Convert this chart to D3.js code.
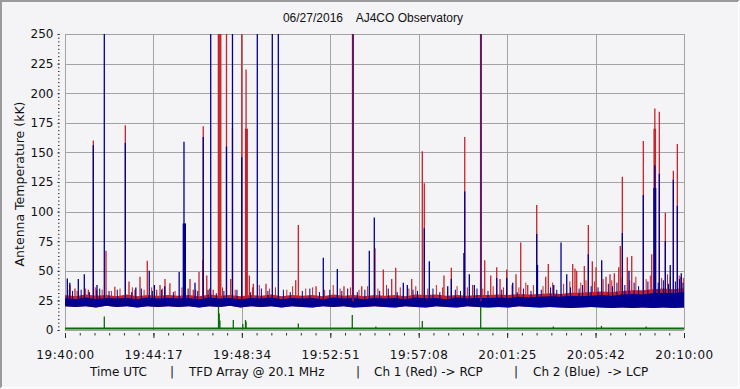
<!DOCTYPE html>
<html>
<head>
<meta charset="utf-8">
<script src="https://cdn.jsdelivr.net/npm/d3@7/dist/d3.min.js"></script>
<style>
  html, body { margin: 0; padding: 0; background: #f4f4f7; }
  svg { display: block; }
  text { fill: #111; }
</style>
</head>
<body>
<svg id="chart" width="740" height="389"></svg>
<script>
// ---------------- DATA ----------------
const title = "06/27/2016    AJ4CO Observatory";
const yLabel = "Antenna Temperature (kK)";
const caption = ["Time UTC", "|", "TFD Array @ 20.1 MHz", "|", "Ch 1 (Red) -> RCP", "|", "Ch 2 (Blue)  -> LCP"];
const xTickLabels = ["19:40:00", "19:44:17", "19:48:34", "19:52:51", "19:57:08", "20:01:25", "20:05:42", "20:10:00"];
const yTicks = [0, 25, 50, 75, 100, 125, 150, 175, 200, 225, 250];
const spanSeconds = 1800;           // 19:40:00 -> 20:10:00

// noise band envelope, sampled every 30 s (values in kK)
const bandStep = 30;
const blueLo = [20,19.5,20,19,20.5,19.5,20,19,20,19.5,20, 19.5,20,19,20,19.5,20.5,19,20,19.5,20,
                19,20,19.5,19,20,19.5,20,19,19.5,20, 19.5,19,20,19.5,19,20,19.5,19,20,19.5,
                19,19.5,19,20,19.5,19,19.5,19,18.5,19, 19.5,19,18.5,19,18.5,19,18.5,19,18.5,19];
const blueHi = [27,26,27.5,26,27,26.5,27,26,27.5,26.5,27, 26.5,27,26,27.5,26.5,27,26,27,26.5,27.5,
                26,27,26.5,27,26,27.5,26.5,27,26,27, 26.5,27,26,27.5,26.5,27,26,27.5,26.5,27,
                27,27.5,27,28,27.5,28,28.5,28,29,28.5, 29,29.5,29,30,30.5,30,31,31.5,31,32];
const redHi  = [29.5,28.5,30,29,29.5,28.5,30,28.5,29.5,29,29.5, 29,29.5,28.5,30,29,29.5,28.5,29.5,29,30,
                28.5,29.5,29,29.5,28.5,30,29,29.5,28.5,29.5, 29,29.5,28.5,30,29.5,30,29,29.5,29,29.5,
                29.5,30,29.5,30.5,30,30.5,31,30.5,31.5,31.5, 32,32.5,32,33,33.5,33.5,34.5,35,34.5,35.5];

// Ch 2 (blue) spikes: seconds after 19:40:00, peak value (kK)
const blueSpikeT = [6.7,14,38.7,56.1,82.3,93,114.3,175.4,206,245,260,290,332,344,346,347.5,350,378,402,423.7,469.6,487,
  513.9,559.2,602.8,620.3,751.1,791.9,837.5,884.9,899.4,983.8,995.4,1044.8,1059.4,1112.9,1123.4,1160,1162.4,1175.7,
  1190.2,1209.5,1255.4,1284.5,1301.9,1371.7,1374,1421.2,1442.4,1459,1521.8,1560.7,1620.7,1640,1681.7,1712.5,1715.2,
  1717.5,1728.2,1745.7,1760,1769,1780.6,1792];
const blueSpikeV = [43.6,40,43,47,156,38,260,158,36,50,38,37,49,90,159,90,90,40,163,260,155,260,
  146,260,260,260,61,51.5,260,67,95,40,38,86,58,37,43,65,117,47,
  38,260,44,44,40,81,55,38,74,47,64,59,82,50,114,120,139,
  120,132,75,55,127,105,48];
// small blue noise hairs
const blueHairT = [22,47,71,101,128,152,194,222,254,281,315,358,386,416,440,462,500,540,571,590,635,655,690,712,740,
  770,805,822,850,872,915,940,966,1012,1025,1070,1090,1135,1150,1198,1230,1270,1315,1333,1355,1385,1412,1430,1470,
  1495,1505,1530,1550,1580,1592,1605,1628,1655,1668,1695,1725,1740,1755,1775,1787,1797];
const blueHairV = [33,34,32,35,33,34,32,35,33,34,32,35,33,34,31,33,34,32,35,33,34,32,33,35,32,
  34,33,35,32,34,33,35,32,34,33,35,32,34,33,35,33,34,32,35,33,34,36,34,36,
  35,38,37,36,39,37,40,38,40,37,41,40,42,39,41,43,40];

// Ch 1 (red) spikes
const redSpikeT = [14.5,29,67.9,82.3,92,119.2,145,175.4,186.1,203.6,218.1,239.3,266.6,276.3,290.8,305,363.5,373,389.7,
  400.4,402,412.3,431,446,448.5,451,453,469.6,481.9,487,513.9,525,526.5,528,530,536,547.6,584.5,670.9,678.5,730,
  811.3,836,862.8,901.5,925.6,950,961.7,1008.2,1039,1044.8,1102,1123.4,1162.4,1208.8,1220.5,1238,1255.4,1265,1284.5,
  1311.5,1325.2,1345.5,1371.7,1397.9,1405.4,1476.4,1483,1488,1510.1,1521.8,1533.4,1544.2,1573.2,1584.9,1597.4,1610.2,
  1614.8,1620.7,1635.2,1648,1681.7,1706.1,1713,1715.2,1717,1728.2,1745.7,1769,1780.6,1791];
const redSpikeV = [38,35,34,160,34,67,36.6,173,41,34,45,58.5,34,38,43,39.4,43,34,49,
  59,172,46,34,260,260,260,260,260,43,170.6,260,170,220,170,170,46,39,39,42,88.7,37,
  37,260,37,69,51,43,52.6,43,151,124,46,52.6,163,260,59,46,53,43,51,
  47,74,38,105.6,45,55.7,55.7,52,50,54,88.7,58,53,45,47,48,53,
  71,129.5,61.4,62.5,159.6,64,170,187,170,184.4,99,134.6,157,45];
// small red noise hairs
const redHairT = [8,35,60,88,108,135,160,196,230,252,283,320,340,380,420,458,495,545,565,595,612,645,662,700,720,755,
  780,800,830,855,880,910,935,975,1000,1020,1055,1080,1098,1140,1170,1185,1215,1245,1275,1300,1320,1340,1362,1390,
  1418,1450,1468,1500,1515,1540,1565,1590,1620,1642,1660,1690,1702,1735,1752,1760,1786,1798];
const redHairV = [34,33,35,36,34,33,35,36,34,36,35,33,36,34,35,36,34,36,38,35,36,34,37,35,36,34,
  38,35,36,34,37,35,38,36,35,37,35,38,36,37,36,38,35,37,36,38,36,40,38,37,
  40,39,41,40,42,41,43,42,44,42,45,43,46,44,47,45,46,44];

// Ch 3 (green) reference channel: baseline and spikes
const greenBase = 1.2;
const greenSpikeT = [114.3,446.4,448.5,450.5,489.4,517,524.9,526.5,678.5,835.4,904,1039,1208.8,1420,1560,1690];
const greenSpikeV = [11.3,19.7,14,8,8.4,5,8.4,7,5.5,12.7,3,7.6,19.7,3,3.5,3];

// ---------------- LAYOUT ----------------
const svg = d3.select("#chart");
const W = 740, H = 389;
const plot = {left: 65, right: 684, top: 34, bottom: 330};
const x = d3.scaleLinear().domain([0, spanSeconds]).range([plot.left, plot.right]);
const y = d3.scaleLinear().domain([0, 250]).range([plot.bottom, plot.top]);

const C = {bg: "#f4f4f7", grid: "#a3a3a3", red: "#c5222c", blue: "#00008f", green: "#0b6b0b", mix: "#6a1466"};

svg.append("rect").attr("width", W).attr("height", H).attr("fill", C.bg);
// window-like border
svg.append("path").attr("d", `M1,${H-1} V1 H${W-1}`).attr("fill", "none").attr("stroke", "#9a9a9a").attr("stroke-width", 2);
svg.append("path").attr("d", `M1,${H-1.5} H${W-1.5} V1`).attr("fill", "none").attr("stroke", "#ffffff").attr("stroke-width", 1);

svg.append("defs").append("clipPath").attr("id", "clip")
  .append("rect").attr("x", plot.left).attr("y", plot.top)
  .attr("width", plot.right - plot.left).attr("height", plot.bottom - plot.top + 2);

// title
svg.append("text").attr("x", 373).attr("y", 22).attr("text-anchor", "middle")
  .attr("xml:space", "preserve").style("white-space", "pre")
  .style("font-family", "'Liberation Sans', Arial, sans-serif").style("font-size", "12px")
  .text(title);

// gridlines
const xTickVals = d3.range(xTickLabels.length).map(i => i * spanSeconds / (xTickLabels.length - 1));
const grid = svg.append("g").attr("stroke", C.grid).attr("stroke-width", 1).attr("shape-rendering", "crispEdges");
grid.selectAll("line.h").data(yTicks).join("line")
  .attr("x1", plot.left).attr("x2", plot.right)
  .attr("y1", d => Math.round(y(d)) + 0.5).attr("y2", d => Math.round(y(d)) + 0.5);
grid.selectAll("line.v").data(xTickVals).join("line")
  .attr("y1", plot.top).attr("y2", plot.bottom)
  .attr("x1", d => Math.round(x(d)) + 0.5).attr("x2", d => Math.round(x(d)) + 0.5);

// ---------------- DATA LAYERS ----------------
const data = svg.append("g").attr("clip-path", "url(#clip)");
const bandT = i => i * bandStep;
const zip = (ts, vs) => ts.map((t, i) => ({t, v: vs[i]}));

function spikes(g, rows, base, color, width) {
  g.append("g").selectAll("line").data(rows).join("line")
    .attr("x1", d => x(d.t)).attr("x2", d => x(d.t))
    .attr("y1", y(base)).attr("y2", d => y(d.v))
    .attr("stroke", color).attr("stroke-width", width);
}

// red band + spikes
data.append("path")
  .datum(redHi.map((v, i) => ({t: bandT(i), lo: blueLo[i], hi: v})))
  .attr("fill", C.red)
  .attr("d", d3.area().x(d => x(d.t)).y0(d => y(d.lo)).y1(d => y(d.hi)));
spikes(data, zip(redHairT, redHairV), 27, C.red, 1);
spikes(data, zip(redSpikeT, redSpikeV), 27, C.red, 1.3);

// blue band + spikes
data.append("path")
  .datum(blueHi.map((v, i) => ({t: bandT(i), lo: blueLo[i], hi: v})))
  .attr("fill", C.blue)
  .attr("d", d3.area().x(d => x(d.t)).y0(d => y(d.lo)).y1(d => y(d.hi)));
spikes(data, zip(blueHairT, blueHairV), 24, C.blue, 1);
const redTop = new Set(redSpikeT.filter((t, i) => redSpikeV[i] >= 250).map(t => Math.round(t / 3)));
const isMix = d => d.v >= 250 && redTop.has(Math.round(d.t / 3));
data.append("g").selectAll("line").data(zip(blueSpikeT, blueSpikeV)).join("line")
  .attr("x1", d => x(d.t)).attr("x2", d => x(d.t))
  .attr("y1", y(24)).attr("y2", d => y(d.v))
  .attr("stroke", d => isMix(d) ? C.mix : C.blue)
  .attr("stroke-width", d => isMix(d) ? 2 : 1.3);

// green channel
data.append("line").attr("x1", x(0)).attr("x2", x(spanSeconds))
  .attr("y1", y(greenBase)).attr("y2", y(greenBase))
  .attr("stroke", C.green).attr("stroke-width", 2);
spikes(data, zip(greenSpikeT, greenSpikeV), greenBase, C.green, 1.3);

// ---------------- AXES ----------------
const fontTick = g => g.selectAll("text")
  .style("font-family", "'DejaVu Sans', Verdana, sans-serif").style("font-size", "12px").attr("fill", "#111");

// y axis: major ticks + dotted minor ticks
const yAxis = svg.append("g").attr("transform", `translate(59.5,0)`)
  .call(d3.axisLeft(y).tickValues(yTicks).tickSize(2).tickPadding(4))
  .call(g => g.select(".domain").remove())
  .call(fontTick);
yAxis.selectAll("line").attr("stroke", "#222");
const yMinor = d3.range(0, 250.01, 25 / 8);
svg.append("g").attr("transform", `translate(59.5,0)`)
  .call(d3.axisLeft(y).tickValues(yMinor).tickSize(1.5).tickFormat(""))
  .call(g => g.select(".domain").remove())
  .selectAll("line").attr("stroke", "#333");

// x axis
const xAxis = svg.append("g").attr("transform", `translate(0,333)`)
  .call(d3.axisBottom(x).tickValues(xTickVals).tickSize(5).tickPadding(12.5)
    .tickFormat((d, i) => xTickLabels[i]))
  .call(g => g.select(".domain").remove())
  .call(fontTick);
xAxis.selectAll("text").style("letter-spacing", "0.6px");
xAxis.selectAll("line").attr("stroke", "#222");
const xMinor = d3.range(0, spanSeconds + 0.01, spanSeconds / 42);
svg.append("g").attr("transform", `translate(0,333)`)
  .call(d3.axisBottom(x).tickValues(xMinor).tickSize(2.5).tickFormat(""))
  .call(g => g.select(".domain").remove())
  .selectAll("line").attr("stroke", "#333");

// y label
svg.append("text").attr("transform", `translate(24,184) rotate(-90)`).attr("text-anchor", "middle")
  .style("font-family", "'DejaVu Sans', Verdana, sans-serif").style("font-size", "12.5px")
  .text(yLabel);

// caption
const capX = [90, 170, 189, 356, 374, 514, 533];
svg.append("g").selectAll("text").data(caption).join("text")
  .attr("x", (d, i) => capX[i]).attr("y", 376)
  .attr("xml:space", "preserve").style("white-space", "pre")
  .style("font-family", "'DejaVu Sans', Verdana, sans-serif").style("font-size", "12px")
  .text(d => d);
</script>
</body>
</html>
